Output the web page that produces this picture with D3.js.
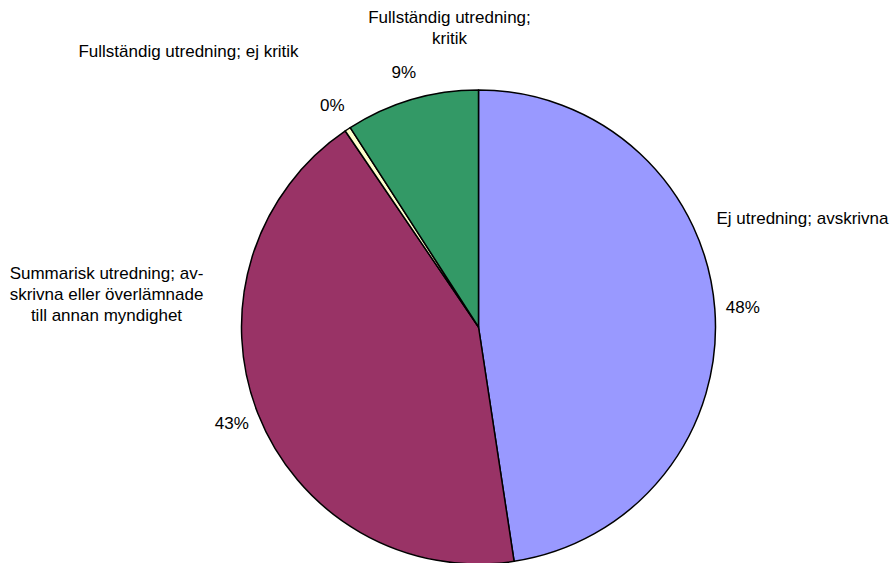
<!DOCTYPE html>
<html>
<head>
<meta charset="utf-8">
<script src="https://cdn.jsdelivr.net/npm/d3@7/dist/d3.min.js"></script>
<style>
  html, body { margin: 0; padding: 0; background: #fff; }
  svg { display: block; }
  text { font-family: "Liberation Sans", Arial, sans-serif; fill: #000; }
</style>
</head>
<body>
<svg id="chart" width="890" height="563"></svg>
<script>
// Ärenden fördelade efter handläggning (antal)
const categories = [
  "Ej utredning; avskrivna",
  "Summarisk utredning; av-|skrivna eller överlämnade|till annan myndighet",
  "Fullständig utredning; ej kritik",
  "Fullständig utredning;|kritik"
];
const counts = [476, 429, 4, 91];
const colors = ["#9999FF", "#993366", "#FFFFCC", "#339966"];

// Placement of the category names, relative to the pie centre
const nameLayout = [
  { dx: 238, dy: -109, anchor: "start" },
  { dx: -372, dy: -33, anchor: "middle" },
  { dx: -290, dy: -276, anchor: "middle" },
  { dx: -29, dy: -299, anchor: "middle" }
];

const width = 890, height = 563;
const cx = 478.5, cy = 327, radius = 237;
const fontSize = 17;
const lineHeight = 21;

const svg = d3.select("#chart");
const g = svg.append("g").attr("transform", `translate(${cx},${cy})`);

const total = d3.sum(counts);
const data = counts.map((v, i) => ({
  name: categories[i], value: v, color: colors[i], layout: nameLayout[i]
}));

const pie = d3.pie().sort(null).value(d => d.value);
const arcs = pie(data);
const arc = d3.arc().innerRadius(0).outerRadius(radius);

g.selectAll("path.slice")
  .data(arcs)
  .join("path")
  .attr("class", "slice")
  .attr("d", arc)
  .attr("fill", d => d.data.color)
  .attr("stroke", "#000")
  .attr("stroke-width", 1.5)
  .attr("stroke-linejoin", "round");

// Percentage labels just outside each slice
const labelArc = d3.arc().innerRadius(265).outerRadius(265);
g.selectAll("text.pct")
  .data(arcs)
  .join("text")
  .attr("class", "pct")
  .attr("transform", d => `translate(${labelArc.centroid(d)})`)
  .attr("text-anchor", "middle")
  .attr("dominant-baseline", "central")
  .style("font-size", fontSize + "px")
  .text(d => Math.round(d.data.value / total * 100) + "%");

// Category names
const names = g.selectAll("text.name")
  .data(data)
  .join("text")
  .attr("class", "name")
  .attr("text-anchor", d => d.layout.anchor)
  .style("font-size", fontSize + "px");

names.each(function(d) {
  const lines = d.name.split("|");
  const el = d3.select(this);
  lines.forEach((ln, j) => {
    el.append("tspan")
      .attr("x", d.layout.dx)
      .attr("y", d.layout.dy + (j - (lines.length - 1) / 2) * lineHeight)
      .attr("dominant-baseline", "central")
      .text(ln);
  });
});
</script>
</body>
</html>
